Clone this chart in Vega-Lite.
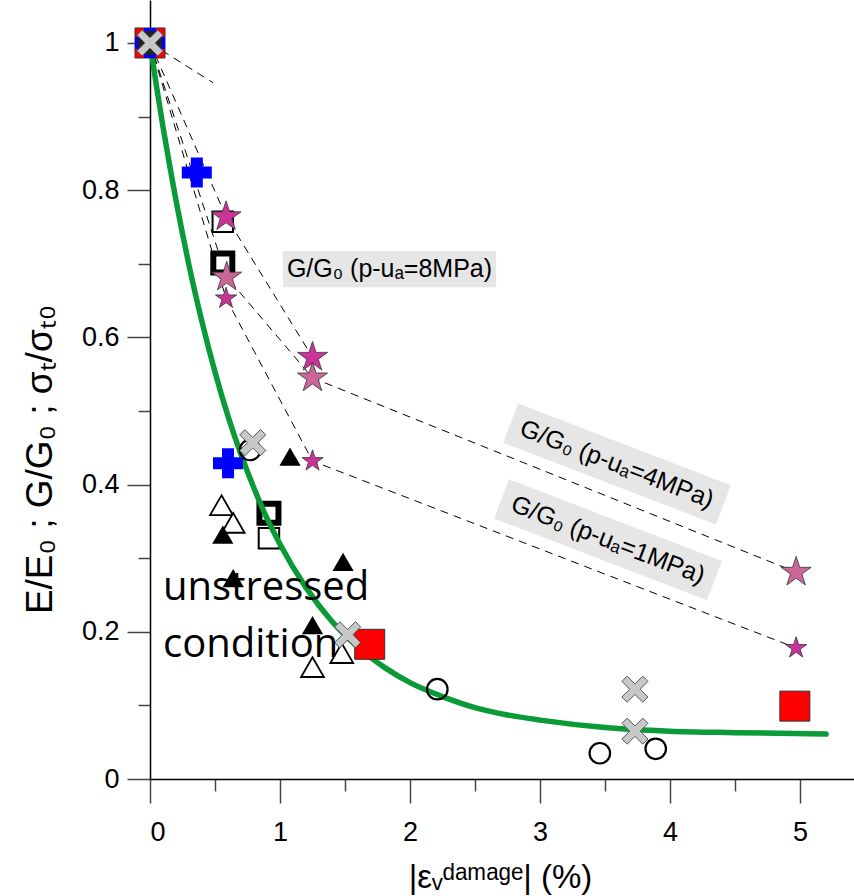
{
  "$schema": "https://vega.github.io/schema/vega-lite/v6.json",
  "width": 704,
  "height": 779,
  "autosize": {"type": "none"},
  "padding": {"left": 150, "top": 0, "right": 0, "bottom": 117},
  "background": "white",
  "config": {"view": {"stroke": null}},
  "datasets": {
    "curve": [
      {"x": 0, "y": 1.0}, {"x": 0.05, "y": 0.941}, {"x": 0.1, "y": 0.886}, {"x": 0.15, "y": 0.835},
      {"x": 0.2, "y": 0.786}, {"x": 0.25, "y": 0.741}, {"x": 0.3, "y": 0.698}, {"x": 0.4, "y": 0.621},
      {"x": 0.5, "y": 0.553}, {"x": 0.6, "y": 0.493}, {"x": 0.7, "y": 0.441}, {"x": 0.8, "y": 0.395},
      {"x": 0.9, "y": 0.354}, {"x": 1.0, "y": 0.319}, {"x": 1.2, "y": 0.26}, {"x": 1.4, "y": 0.214},
      {"x": 1.6, "y": 0.179}, {"x": 1.8, "y": 0.152}, {"x": 2.0, "y": 0.131}, {"x": 2.25, "y": 0.112},
      {"x": 2.5, "y": 0.097}, {"x": 2.75, "y": 0.087}, {"x": 3.0, "y": 0.08}, {"x": 3.5, "y": 0.07},
      {"x": 4.0, "y": 0.065}, {"x": 4.5, "y": 0.063}, {"x": 5.2, "y": 0.061}
    ],
    "dash": [
      {"g": "8MPa", "x": 0, "y": 1}, {"g": "8MPa", "x": 0.585, "y": 0.764}, {"g": "8MPa", "x": 1.25, "y": 0.573},
      {"g": "4MPa", "x": 0, "y": 1}, {"g": "4MPa", "x": 0.59, "y": 0.682}, {"g": "4MPa", "x": 1.25, "y": 0.545}, {"g": "4MPa", "x": 4.97, "y": 0.281},
      {"g": "1MPa", "x": 0, "y": 1}, {"g": "1MPa", "x": 0.585, "y": 0.653}, {"g": "1MPa", "x": 1.25, "y": 0.432}, {"g": "1MPa", "x": 4.97, "y": 0.178},
      {"g": "stub", "x": 0, "y": 1}, {"g": "stub", "x": 0.485, "y": 0.946}
    ],
    "pts": [
      {"k": "sqThick", "x": 0.915, "y": 0.361}, {"k": "sqThick", "x": 0.56, "y": 0.701},
      {"k": "sqOpen", "x": 0.915, "y": 0.327}, {"k": "sqOpen", "x": 0.56, "y": 0.757},
      {"k": "triFill", "x": 1.077, "y": 0.438}, {"k": "triFill", "x": 0.56, "y": 0.332}, {"k": "triFill", "x": 0.64, "y": 0.273},
      {"k": "triFill", "x": 1.485, "y": 0.295}, {"k": "triFill", "x": 1.25, "y": 0.209},
      {"k": "triOpen", "x": 0.55, "y": 0.372}, {"k": "triOpen", "x": 0.64, "y": 0.348}, {"k": "triOpen", "x": 1.25, "y": 0.152}, {"k": "triOpen", "x": 1.475, "y": 0.171},
      {"k": "circle", "x": 0.77, "y": 0.447}, {"k": "circle", "x": 2.21, "y": 0.122}, {"k": "circle", "x": 3.46, "y": 0.035}, {"k": "circle", "x": 3.89, "y": 0.041},
      {"k": "starA", "x": 0.585, "y": 0.764}, {"k": "starA", "x": 1.25, "y": 0.573},
      {"k": "starB", "x": 0.59, "y": 0.682}, {"k": "starB", "x": 1.25, "y": 0.545}, {"k": "starB", "x": 4.97, "y": 0.281},
      {"k": "starC", "x": 0.585, "y": 0.653}, {"k": "starC", "x": 1.25, "y": 0.432}, {"k": "starC", "x": 4.97, "y": 0.178},
      {"k": "redSq", "x": 0, "y": 1}, {"k": "redSq", "x": 1.69, "y": 0.183}, {"k": "redSq", "x": 4.96, "y": 0.099},
      {"k": "plus", "x": 0, "y": 1}, {"k": "plus", "x": 0.36, "y": 0.824}, {"k": "plus", "x": 0.6, "y": 0.429},
      {"k": "dot", "x": 0, "y": 1},
      {"k": "xg", "x": 0, "y": 1}, {"k": "xg", "x": 0.79, "y": 0.457}, {"k": "xg", "x": 1.52, "y": 0.196}, {"k": "xg", "x": 3.73, "y": 0.122}, {"k": "xg", "x": 3.73, "y": 0.065}
    ],
    "rotLabels": [
      {"t": "G/G₀ (p-uₐ=4MPa)", "x": 3.592, "y": 0.428},
      {"t": "G/G₀ (p-uₐ=1MPa)", "x": 3.523, "y": 0.325}
    ],
    "flatLabel": [
      {"t": "G/G₀ (p-uₐ=8MPa)", "x": 1.842, "y": 0.693, "x1": 1.023, "x2": 2.662, "y1": 0.668, "y2": 0.717}
    ],
    "bigText": [
      {"t": "unstressed", "x": 0.1, "y": 0.243},
      {"t": "condition", "x": 0.1, "y": 0.166}
    ]
  },
  "encoding": {
    "x": {"field": "x", "type": "quantitative",
      "scale": {"domain": [0, 5.415], "nice": false, "zero": false},
      "axis": {"orient": "bottom", "values": [0, 0.5, 1, 1.5, 2, 2.5, 3, 3.5, 4, 4.5, 5], "grid": false,
        "labelExpr": "datum.value % 1 == 0 ? format(datum.value, '~g') : ''",
        "domainColor": "black", "domainWidth": 1.5, "tickColor": "#444", "tickWidth": 1.5,
        "tickSize": {"condition": {"test": "datum.value % 1 == 0", "value": 24}, "value": 12},
        "labelFont": "Liberation Sans", "labelFontSize": 27, "labelColor": "black", "labelPadding": 16,
        "title": "|εᵥᵈᵃᵐᵃᵍᵉ| (%)", "titleFont": "Liberation Sans", "titleFontSize": 33, "titleFontWeight": "normal", "titleColor": "black",
        "titleX": 350, "titleY": 108, "titleAlign": "center", "titleBaseline": "alphabetic"}},
    "y": {"field": "y", "type": "quantitative",
      "scale": {"domain": [0, 1.0584], "nice": false, "zero": false},
      "axis": {"orient": "left", "values": [0, 0.1, 0.2, 0.3, 0.4, 0.5, 0.6, 0.7, 0.8, 0.9, 1], "grid": false,
        "labelExpr": "round(datum.value * 10) % 2 == 0 ? format(datum.value, '~g') : ''",
        "domainColor": "black", "domainWidth": 1.5, "tickColor": "#444", "tickWidth": 1.5,
        "tickSize": {"condition": {"test": "round(datum.value * 10) % 2 == 0", "value": 23}, "value": 12},
        "labelFont": "Liberation Sans", "labelFontSize": 27, "labelColor": "black", "labelPadding": 8,
        "title": "E/E₀ ; G/G₀ ; σₜ/σₜ₀", "titleFont": "Liberation Sans", "titleFontSize": 37, "titleFontWeight": "normal", "titleColor": "black",
        "titleAngle": -90, "titleX": -110, "titleY": 459, "titleAlign": "center", "titleBaseline": "middle"}}
  },
  "layer": [
    {"data": {"name": "dash"}, "mark": {"type": "line", "color": "black", "strokeWidth": 1, "strokeDash": [8, 6]}, "encoding": {"detail": {"field": "g", "type": "nominal"}}},
    {"data": {"name": "flatLabel"}, "mark": {"type": "rect", "fill": "#E6E6E6"}, "encoding": {"x": {"field": "x1", "type": "quantitative"}, "x2": {"field": "x2"}, "y": {"field": "y1", "type": "quantitative"}, "y2": {"field": "y2"}}},
    {"data": {"name": "rotLabels"}, "mark": {"type": "point", "filled": true, "fill": "#E6E6E6", "opacity": 1, "strokeWidth": 0, "angle": 21, "size": 51984, "shape": "M-1,-0.184L1,-0.184L1,0.184L-1,0.184Z"}},
    {"data": {"name": "pts"}, "transform": [{"filter": "datum.k == 'sqOpen'"}], "mark": {"type": "point", "shape": "square", "size": 420, "filled": false, "fill": "white", "fillOpacity": 1, "stroke": "black", "strokeWidth": 2, "opacity": 1}},
    {"data": {"name": "pts"}, "transform": [{"filter": "datum.k == 'sqThick'"}], "mark": {"type": "point", "shape": "square", "size": 361, "filled": false, "fill": "white", "fillOpacity": 1, "stroke": "black", "strokeWidth": 6, "opacity": 1}},
    {"data": {"name": "pts"}, "transform": [{"filter": "datum.k == 'triOpen'"}], "mark": {"type": "point", "shape": "triangle-up", "size": 520, "filled": false, "fill": "white", "fillOpacity": 1, "stroke": "black", "strokeWidth": 1.8, "opacity": 1}},
    {"data": {"name": "curve"}, "mark": {"type": "line", "color": "#0A9A37", "strokeWidth": 5.5, "strokeCap": "round", "interpolate": "monotone"}},
    {"data": {"name": "pts"}, "transform": [{"filter": "datum.k == 'triFill'"}], "mark": {"type": "point", "shape": "triangle-up", "size": 450, "filled": true, "fill": "black", "opacity": 1}},
    {"data": {"name": "pts"}, "transform": [{"filter": "datum.k == 'circle'"}], "mark": {"type": "point", "shape": "circle", "size": 420, "filled": false, "stroke": "black", "strokeWidth": 2.2, "opacity": 1}},
    {"data": {"name": "pts"}, "transform": [{"filter": "datum.k == 'starA'"}], "mark": {"type": "point", "shape": "M0,-1L0.2245,-0.309L0.951,-0.309L0.3633,0.118L0.588,0.809L0,0.382L-0.588,0.809L-0.3633,0.118L-0.951,-0.309L-0.2245,-0.309Z", "size": 1000, "filled": true, "fill": "#CC3399", "stroke": "#333", "strokeWidth": 0.8, "opacity": 1}},
    {"data": {"name": "pts"}, "transform": [{"filter": "datum.k == 'starB'"}], "mark": {"type": "point", "shape": "M0,-1L0.2245,-0.309L0.951,-0.309L0.3633,0.118L0.588,0.809L0,0.382L-0.588,0.809L-0.3633,0.118L-0.951,-0.309L-0.2245,-0.309Z", "size": 1000, "filled": true, "fill": "#CC6699", "stroke": "#333", "strokeWidth": 0.8, "opacity": 1}},
    {"data": {"name": "pts"}, "transform": [{"filter": "datum.k == 'starC'"}], "mark": {"type": "point", "shape": "M0,-1L0.2245,-0.309L0.951,-0.309L0.3633,0.118L0.588,0.809L0,0.382L-0.588,0.809L-0.3633,0.118L-0.951,-0.309L-0.2245,-0.309Z", "size": 500, "filled": true, "fill": "#CC3399", "stroke": "#333", "strokeWidth": 0.8, "opacity": 1}},
    {"data": {"name": "pts"}, "transform": [{"filter": "datum.k == 'redSq'"}], "mark": {"type": "point", "shape": "square", "size": 900, "filled": true, "fill": "#FF0000", "stroke": "#333", "strokeWidth": 1, "opacity": 1}},
    {"data": {"name": "pts"}, "transform": [{"filter": "datum.k == 'plus'"}], "mark": {"type": "point", "shape": "cross", "size": 900, "filled": true, "fill": "#0000FF", "strokeWidth": 0, "opacity": 1}},
    {"data": {"name": "pts"}, "transform": [{"filter": "datum.k == 'dot'"}], "mark": {"type": "point", "shape": "circle", "size": 600, "filled": true, "fill": "#222222", "opacity": 1}},
    {"data": {"name": "pts"}, "transform": [{"filter": "datum.k == 'xg'"}], "mark": {"type": "point", "shape": "M-0.6,-1L0,-0.4L0.6,-1L1,-0.6L0.4,0L1,0.6L0.6,1L0,0.4L-0.6,1L-1,0.6L-0.4,0L-1,-0.6Z", "size": 680, "filled": true, "fill": "#C8C8C8", "stroke": "#555", "strokeWidth": 1, "opacity": 1}},
    {"data": {"name": "flatLabel"}, "mark": {"type": "text", "font": "Liberation Sans", "fontSize": 25, "color": "black", "align": "center", "baseline": "middle"}, "encoding": {"text": {"field": "t", "type": "nominal"}}},
    {"data": {"name": "rotLabels"}, "mark": {"type": "text", "font": "Liberation Sans", "fontSize": 25, "color": "black", "align": "center", "baseline": "middle", "angle": 21}, "encoding": {"text": {"field": "t", "type": "nominal"}}},
    {"data": {"name": "bigText"}, "mark": {"type": "text", "font": "Open Sans", "fontSize": 40, "color": "black", "align": "left", "baseline": "alphabetic"}, "encoding": {"text": {"field": "t", "type": "nominal"}}}
  ]
}
